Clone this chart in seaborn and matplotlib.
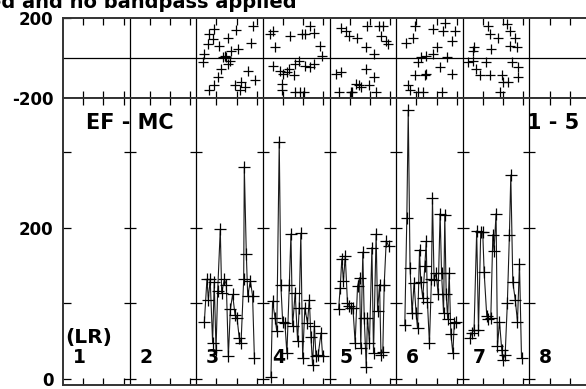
import matplotlib.pyplot as plt
import pandas as pd
import seaborn as sns

# --- data (x = sample position inside each block of 33) ---
BLOCK = 33
block_labels = ['1', '2', '3', '4', '5', '6', '7', '8']
title_text = 'Not filtered and no bandpass applied'

# bottom panel traces (blocks 3..7)
tr3_x = [4.0, 5.3, 6.0, 6.9, 8.1, 8.9, 9.8, 10.6, 11.9, 12.6, 13.9, 14.9, 15.9, 16.9,
         18.0, 19.2, 20.2, 21.3, 22.2, 23.5, 23.8, 24.8, 25.5, 26.8, 27.9, 28.8]
tr3_y = [75, 132, 105, 132, 48, 128, 39, 116, 198, 114, 132, 125, 30, 92,
         112, 85, 81, 54, 48, 132, 281, 165, 110, 130, 110, 28]
tr4_x = [4.0, 4.8, 6.0, 6.9, 8.1, 8.9, 9.8, 10.9, 11.9, 13.1, 13.9, 14.7, 16.0, 17.2,
         18.0, 18.8, 19.7, 20.8, 22.1, 23.0, 23.8, 24.6, 25.5, 26.3, 27.4, 28.8, 29.6]
tr4_y = [3, 103, 81, 63, 314, 125, 76, 74, 34, 125, 192, 70, 114, 50,
         94, 193, 28, 94, 74, 105, 56, 19, 70, 30, 32, 61, 30]
tr5_x = [4.5, 5.3, 6.1, 6.9, 7.8, 8.9, 9.9, 10.6, 11.6, 12.7, 13.9, 14.9, 15.5, 16.5,
         17.2, 18.2, 18.8, 19.8, 21.0, 21.8, 23.1, 23.8, 24.8, 25.5, 26.4, 27.1, 28.1, 29.3]
tr5_y = [92, 121, 159, 130, 163, 101, 96, 94, 94, 48, 123, 134, 41, 168,
         81, 16, 81, 48, 174, 34, 192, 90, 125, 32, 36, 125, 183, 176]
tr6_x = [4.3, 5.3, 6.0, 6.9, 7.9, 8.9, 9.9, 10.6, 11.6, 12.2, 13.2, 14.2, 14.9, 15.5, 16.5,
         17.5, 18.0, 18.8, 19.8, 20.8, 21.8, 22.5, 23.5, 24.1, 24.8, 25.5, 26.3, 27.1, 28.1, 28.8, 29.6]
tr6_y = [72, 213, 356, 147, 87, 127, 87, 67, 171, 129, 107, 149, 182, 102, 47,
         133, 239, 131, 140, 113, 219, 140, 87, 217, 113, 80, 140, 60, 34, 74, 76]
tr7_x = [3.6, 4.5, 5.6, 6.9, 7.8, 8.9, 9.9, 10.6, 11.9, 12.7, 13.9, 14.9, 15.5, 16.5,
         17.2, 18.2, 19.3, 19.8, 21.0, 22.1, 23.1, 23.8, 24.8, 26.0, 27.1, 28.1, 29.1]
tr7_y = [54, 61, 65, 196, 65, 194, 194, 141, 83, 79, 81, 191, 170, 219,
         43, 76, 39, 25, 32, 101, 190, 270, 128, 105, 76, 152, 28]

# top panel scatter (blocks 3..7)
sc3_x = [9, 6.5, 19.8, 28.2, 15.7, 5.7, 11.5, 27.3, 20.7, 4, 13.2, 14.8, 16.5, 3.2,
         12.3, 25.7, 10.7, 22.3, 9, 29, 19, 24, 6.5, 21.5, 14, 17.3, 8.2, 15.7]
sc3_y = [143, 119, 138, 160, 102, 69, 61, 77, 44, 20, 3, 3, -13, -21,
         -54, -63, -95, -120, -137, -112, -137, -145, -161, -158, 12, 36, 94, -30]
sc4_x = [5.2, 3.5, 6, 13.5, 19.3, 23.5, 25.2, 21, 28.5, 29.3, 17.7, 16, 25.2, 23.5,
         21, 5.2, 8.5, 12.7, 10.2, 15.2, 11.8, 9.7, 9.3, 16, 18.5, 20.2]
sc4_y = [135, 119, 53, 110, 119, 160, 127, 119, 61, 12, -13, -30, -30, -46,
         -38, -38, -63, -54, -79, -87, -71, -132, -161, -170, -170, -170]
sc5_x = [5.5, 8, 9.7, 13.8, 18.8, 24.7, 26.3, 25.5, 28, 28.8, 18, 22.2, 3, 5.5,
         18, 22.2, 13, 14.7, 15.5, 11.3, 4.7, 23, 19.7, 10.5]
sc5_y = [151, 135, 110, 102, 160, 160, 160, 110, 86, 69, 53, 20, -79, -71,
         -54, -95, -128, -137, -145, -170, -170, -170, -137, -170]
sc6_x = [9.2, 18.3, 23.3, 24.2, 29.2, 27.5, 5, 8.3, 20, 18.3, 15, 12.5, 25, 10.8,
         14.2, 15, 9.2, 21.7, 27.5, 5.8, 6.7, 10.8, 13.3, 22.5]
sc6_y = [160, 143, 135, 176, 135, 86, 77, 102, 53, 20, 12, 3, 3, -21,
         -87, -79, -87, -46, -79, -137, -161, -170, -170, -170]
sc7_x = [12.5, 21.7, 23.3, 13.3, 17.5, 25.8, 26.7, 23.3, 5.8, 14.2, 2.5, 5, 6.7, 11.7,
         8.3, 13.3, 19.2, 24.2, 27.5, 20, 27.5, 22.5, 18.3, 5]
sc7_y = [160, 168, 135, 119, 102, 102, 53, 61, 53, 44, -21, -13, -54, -21,
         -87, -87, -87, -21, -46, -120, -95, -120, -170, 36]

traces = {3: (tr3_x, tr3_y), 4: (tr4_x, tr4_y), 5: (tr5_x, tr5_y),
          6: (tr6_x, tr6_y), 7: (tr7_x, tr7_y)}
scatters = {3: (sc3_x, sc3_y), 4: (sc4_x, sc4_y), 5: (sc5_x, sc5_y),
            6: (sc6_x, sc6_y), 7: (sc7_x, sc7_y)}

df_tr = pd.DataFrame([(b, (b - 1) * BLOCK + x, y)
                      for b, (xs, ys) in traces.items() for x, y in zip(xs, ys)],
                     columns=['block', 'x', 'y'])
df_sc = pd.DataFrame([(b, (b - 1) * BLOCK + x, y)
                      for b, (xs, ys) in scatters.items() for x, y in zip(xs, ys)],
                     columns=['block', 'x', 'y'])

# --- style ---
sns.set_theme(style="white")
plt.rcParams['font.family'] = ['DejaVu Sans']
plt.rcParams['font.weight'] = 'bold'
plt.rcParams['text.color'] = 'black'
plt.rcParams['xtick.color'] = 'black'
plt.rcParams['ytick.color'] = 'black'
plt.rcParams['ytick.labelcolor'] = 'black'

W, H = 586, 389
fig = plt.figure(figsize=(W / 100, H / 100), dpi=100)
x0, x1 = 63, 596
ax_top = fig.add_axes([x0 / W, 1 - 98 / H, (x1 - x0) / W, 80 / H])
ax_bot = fig.add_axes([x0 / W, 1 - 385 / H, (x1 - x0) / W, 287 / H], sharex=ax_top)

sns.scatterplot(data=df_sc, x='x', y='y', marker='+', s=55, color='black',
                linewidth=0.9, ax=ax_top, legend=False)
sns.lineplot(data=df_tr, x='x', y='y', units='block', estimator=None, sort=False,
             color='#1a1a1a', lw=0.8, marker='+', ms=8, mew=0.9, mec='black',
             ax=ax_bot, legend=False)

ax_top.set_xlim(0, 8 * BLOCK)
ax_top.set_ylim(-200, 200)
ax_bot.set_ylim(-8, 372)

for ax in (ax_top, ax_bot):
    for k in range(1, 9):
        ax.axvline(k * BLOCK, color='black', lw=0.9, zorder=1)
    for s in ax.spines.values():
        s.set_color('#333333')
        s.set_linewidth(1.4)
    ax.set_xlabel('')
    ax.set_ylabel('')
    ax.tick_params(axis='x', direction='in', top=True, bottom=True, length=5,
                   width=0.9, color='black', labelbottom=False, labeltop=False)
    ax.tick_params(axis='y', direction='in', left=True, length=6, width=0.9,
                   color='black', labelcolor='black', labelsize=12, pad=7)

ax_top.axhline(0, color='black', lw=0.9, zorder=1)
ax_bot.set_xticks([k * BLOCK + t for k in range(8) for t in (10, 20, 30)])

ax_top.set_yticks([-200, 200])
ax_top.set_yticklabels(['-200', '200'], fontweight='bold', color='black')
ax_bot.set_yticks([0, 100, 200, 300])
ax_bot.set_yticklabels(['0', '', '200', ''], fontweight='bold', color='black')

# cross ticks on block separators
for k in range(1, 9):
    ax_bot.plot([k * BLOCK] * 4, [0, 100, 200, 300], ls='none', marker='_',
                ms=8, mew=0.9, color='black')

# annotations
ax_bot.text(BLOCK, 339, 'EF - MC', ha='center', va='center', fontsize=15,
            fontweight='bold', color='black')
ax_bot.text(7 * BLOCK - 1, 339, '1 - 5', ha='left', va='center', fontsize=15,
            fontweight='bold', color='black')
ax_bot.text(1, 55, '(LR)', ha='left', va='center', fontsize=14.5,
            fontweight='bold', color='black')
for k, lab in enumerate(block_labels):
    ax_bot.text(k * BLOCK + 8, 28, lab, ha='center', va='center', fontsize=13.5,
                fontweight='bold', color='black')

fig.text(297 / W, 1 - 8.5 / H, title_text, ha='right', va='baseline',
         fontsize=14, fontweight='bold', color='black')

fig.savefig('out.png', dpi=100)
